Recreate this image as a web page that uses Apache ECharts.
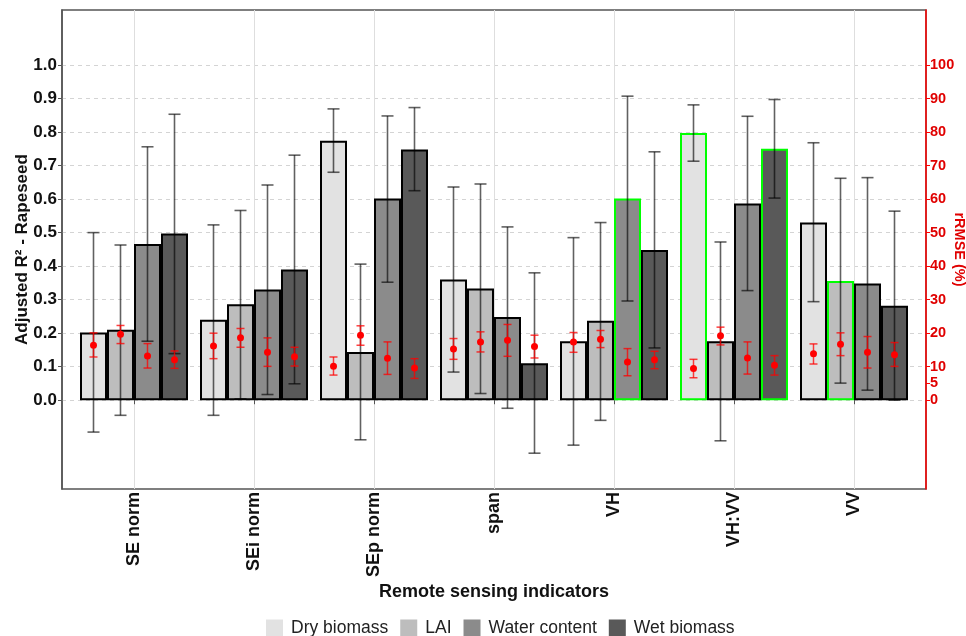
<!DOCTYPE html>
<html>
<head>
<meta charset="utf-8">
<script src="https://cdn.jsdelivr.net/npm/echarts@6/dist/echarts.min.js"></script>
<style>
html,body{margin:0;padding:0;background:#fff;}
#chart{width:966px;height:636px;}
</style>
</head>
<body>
<div id="chart"></div>
<script>
// ---------- data ----------
const categories = ['SE norm', 'SEi norm', 'SEp norm', 'span', 'VH', 'VH:VV', 'VV'];
const seriesNames = ['Dry biomass', 'LAI', 'Water content', 'Wet biomass'];
const seriesColors = ['#e2e2e2', '#bdbdbd', '#8b8b8b', '#595959'];

const r2Dry   = [0.202, 0.240, 0.774, 0.360, 0.176, 0.797, 0.530];
const r2DryLo = [-0.095, -0.045, 0.680, 0.084, -0.134, 0.713, 0.294];
const r2DryHi = [0.500, 0.523, 0.869, 0.636, 0.485, 0.881, 0.768];
const rmseDry   = [16.4, 16.2, 10.1, 15.3, 17.4, 9.5, 13.9];
const rmseDryLo = [12.9, 12.4, 7.5, 12.2, 14.3, 6.7, 10.8];
const rmseDryHi = [20.1, 20.0, 12.9, 18.4, 20.2, 12.2, 16.8];

const r2Lai   = [0.210, 0.286, 0.144, 0.333, 0.237, 0.176, 0.356];
const r2LaiLo = [-0.045, 0.004, -0.118, 0.020, -0.060, -0.121, 0.051];
const r2LaiHi = [0.463, 0.566, 0.406, 0.645, 0.530, 0.472, 0.662];
const rmseLai   = [19.7, 18.6, 19.4, 17.4, 18.2, 19.2, 16.7];
const rmseLaiLo = [16.9, 15.8, 16.4, 14.4, 15.7, 16.5, 13.3];
const rmseLaiHi = [22.3, 21.4, 22.2, 20.4, 20.8, 21.8, 20.1];

const r2Water   = [0.466, 0.330, 0.602, 0.248, 0.602, 0.587, 0.348];
const r2WaterLo = [0.176, 0.017, 0.352, -0.024, 0.296, 0.327, 0.030];
const r2WaterHi = [0.756, 0.642, 0.848, 0.517, 0.907, 0.847, 0.664];
const rmseWater   = [13.2, 14.3, 12.5, 17.9, 11.4, 12.6, 14.3];
const rmseWaterLo = [9.6, 10.1, 7.7, 13.1, 7.3, 7.8, 9.6];
const rmseWaterHi = [16.9, 18.6, 17.4, 22.6, 15.4, 17.4, 19.0];

const r2Wet   = [0.497, 0.390, 0.748, 0.110, 0.448, 0.750, 0.282];
const r2WetLo = [0.139, 0.049, 0.625, -0.158, 0.156, 0.603, 0.000];
const r2WetHi = [0.853, 0.731, 0.873, 0.380, 0.741, 0.897, 0.564];
const rmseWet   = [12.1, 13.0, 9.6, 16.0, 12.1, 10.4, 13.6];
const rmseWetLo = [9.5, 10.2, 6.5, 12.6, 9.4, 7.5, 10.1];
const rmseWetHi = [14.7, 15.8, 12.4, 19.4, 14.6, 13.3, 17.2];

// best indicator per variable (highlighted bars)
const bestDry = [5];
const bestLai = [6];
const bestWater = [4];
const bestWet = [5];

const leftTicks = [0, 0.1, 0.2, 0.3, 0.4, 0.5, 0.6, 0.7, 0.8, 0.9, 1.0];
const rightTicks = [0, 5, 10, 20, 30, 40, 50, 60, 70, 80, 90, 100];

// ---------- build ----------
const r2All = [r2Dry, r2Lai, r2Water, r2Wet];
const r2LoAll = [r2DryLo, r2LaiLo, r2WaterLo, r2WetLo];
const r2HiAll = [r2DryHi, r2LaiHi, r2WaterHi, r2WetHi];
const rmAll = [rmseDry, rmseLai, rmseWater, rmseWet];
const rmLoAll = [rmseDryLo, rmseLaiLo, rmseWaterLo, rmseWetLo];
const rmHiAll = [rmseDryHi, rmseLaiHi, rmseWaterHi, rmseWetHi];
const bestAll = [bestDry, bestLai, bestWater, bestWet];

const FONT = 'Liberation Sans, Arial, Helvetica, sans-serif';
const Y_MIN = -0.2648, Y_MAX = 1.164;
const R_MIN = Y_MIN * 100, R_MAX = Y_MAX * 100;

const barSeries = seriesNames.map((name, k) => ({
  name: name,
  type: 'bar',
  xAxisIndex: 1,
  yAxisIndex: 2,
  barGap: '0%',
  barCategoryGap: '10%',
  z: 2,
  itemStyle: { color: seriesColors[k], borderColor: '#000', borderWidth: 2 },
  data: r2All[k].map((v, i) => bestAll[k].indexOf(i) >= 0
    ? { value: v, itemStyle: { borderColor: '#00ff00' } }
    : v)
}));

const blackErr = [];
const redErr = [];
for (let k = 0; k < 4; k++) {
  for (let i = 0; i < categories.length; i++) {
    blackErr.push([i, k, r2LoAll[k][i], r2HiAll[k][i]]);
    redErr.push([i, k, rmLoAll[k][i], rmHiAll[k][i], rmAll[k][i]]);
  }
}

function makeErrRender(capHalf, color, lw, withPoint) {
  return function (params, api) {
    const cat = api.value(0), k = api.value(1);
    const lo = api.value(2), hi = api.value(3);
    const band = api.size([1, 0])[0];
    const bw = band * 0.9 / 4;
    const pLo = api.coord([cat, lo]);
    const pHi = api.coord([cat, hi]);
    const x = pLo[0] + (k - 1.5) * bw;
    const style = { stroke: color, lineWidth: lw, fill: null };
    const children = [
      { type: 'line', shape: { x1: x, y1: pLo[1], x2: x, y2: pHi[1] }, style: style },
      { type: 'line', shape: { x1: x - capHalf, y1: pLo[1], x2: x + capHalf, y2: pLo[1] }, style: style },
      { type: 'line', shape: { x1: x - capHalf, y1: pHi[1], x2: x + capHalf, y2: pHi[1] }, style: style }
    ];
    if (withPoint) {
      const pm = api.coord([cat, api.value(4)]);
      children.push({ type: 'circle', shape: { cx: x, cy: pm[1], r: 3.5 }, style: { fill: '#ff0000', stroke: null } });
    }
    return { type: 'group', children: children };
  };
}

const option = {
  animation: false,
  textStyle: { fontFamily: FONT },
  grid: [
    { left: 62, right: 40, top: 10, bottom: 147, show: true, borderColor: '#555', borderWidth: 1.5, backgroundColor: 'transparent', containLabel: false, outerBoundsMode: 'none' },
    { left: 74, right: 52, top: 10, bottom: 147, containLabel: false, outerBoundsMode: 'none' }
  ],
  legend: {
    data: seriesNames,
    left: 266,
    top: 619,
    padding: 0,
    itemWidth: 17,
    itemHeight: 17,
    itemGap: 12,
    icon: 'rect',
    itemStyle: { borderWidth: 0 },
    textStyle: { fontSize: 17.5, color: '#222', fontFamily: FONT, padding: [0, 0, 0, 3] }
  },
  xAxis: [
    { gridIndex: 0, type: 'value', min: 0, max: 1, show: false },
    {
      gridIndex: 1, type: 'category', data: categories,
      axisLine: { show: false },
      axisTick: { show: true, alignWithLabel: true, length: 4, lineStyle: { color: '#555', width: 1 } },
      splitLine: { show: true, alignWithLabel: true, lineStyle: { color: '#dedede', width: 1 } },
      axisLabel: { rotate: 90, fontSize: 18, fontWeight: 'bold', color: '#111', margin: 3, fontFamily: FONT },
      name: 'Remote sensing indicators',
      nameLocation: 'middle',
      nameGap: 94,
      nameMoveOverlap: false,
      nameTextStyle: { fontSize: 18, fontWeight: 'bold', color: '#111', fontFamily: FONT }
    }
  ],
  yAxis: [
    {
      gridIndex: 0, type: 'value', min: Y_MIN, max: Y_MAX, position: 'left',
      axisLine: { show: true, lineStyle: { color: '#555', width: 1.5 } },
      axisTick: { show: true, length: 4, customValues: leftTicks, lineStyle: { color: '#555' } },
      axisLabel: { customValues: leftTicks, formatter: v => v.toFixed(1), fontSize: 17, fontWeight: 'bold', color: '#111', margin: 5, fontFamily: FONT },
      splitLine: { show: true, lineStyle: { color: '#d4d4d4', type: [4, 4], width: 1 } },
      name: 'Adjusted R² - Rapeseed',
      nameLocation: 'middle',
      nameGap: 31,
      nameMoveOverlap: false,
      nameTextStyle: { fontSize: 17, fontWeight: 'bold', color: '#111', fontFamily: FONT }
    },
    {
      gridIndex: 0, type: 'value', min: R_MIN, max: R_MAX, position: 'right',
      axisLine: { show: true, lineStyle: { color: '#ff0000', width: 1.5 } },
      axisTick: { show: true, length: 4, customValues: rightTicks, lineStyle: { color: '#ff0000' } },
      axisLabel: { customValues: rightTicks, fontSize: 14.5, fontWeight: 'bold', color: '#e00000', margin: 4, fontFamily: FONT },
      splitLine: { show: false },
      name: 'rRMSE (%)',
      nameLocation: 'middle',
      nameRotate: -90,
      nameGap: 25,
      nameMoveOverlap: false,
      nameTextStyle: { fontSize: 14.5, fontWeight: 'bold', color: '#e00000', fontFamily: FONT }
    },
    { gridIndex: 1, type: 'value', min: Y_MIN, max: Y_MAX, show: false, splitLine: { show: false } },
    { gridIndex: 1, type: 'value', min: R_MIN, max: R_MAX, show: false, splitLine: { show: false } }
  ],
  series: barSeries.concat([
    {
      type: 'custom', name: 'r2err', xAxisIndex: 1, yAxisIndex: 2, z: 5,
      encode: { x: 0, y: [2, 3] },
      renderItem: makeErrRender(6, 'rgba(0,0,0,0.62)', 1.6, false),
      data: blackErr, silent: true
    },
    {
      type: 'custom', name: 'rmseerr', xAxisIndex: 1, yAxisIndex: 3, z: 6,
      encode: { x: 0, y: [2, 3] },
      renderItem: makeErrRender(4, 'rgba(255,0,0,0.75)', 1.5, true),
      data: redErr, silent: true
    }
  ])
};

const chart = echarts.init(document.getElementById('chart'), null, { renderer: 'canvas' });
chart.setOption(option);
</script>
</body>
</html>
